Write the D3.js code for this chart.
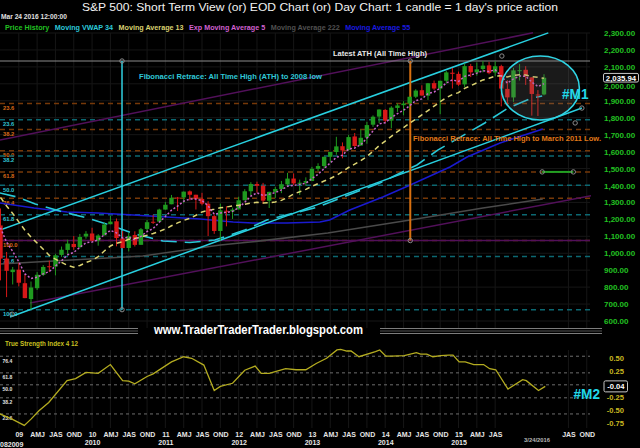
<!DOCTYPE html>
<html>
<head>
<meta charset="utf-8">
<script src="https://cdn.jsdelivr.net/npm/d3@7"></script>
<style>
  body { margin: 0; background: #000; }
  svg { display: block; }
  text { font-family: "Liberation Sans", Arial, sans-serif; }
</style>
</head>
<body>
<div id="chart"></div>
<script>
// monthly candles, first one is Oct 2008 (month index: 0 = Jan 2009)
let firstMonth = -3;
let candleOpen = [1164.17, 968.67, 888.61,
  902.99, 823.09, 729.57, 793.59, 872.74, 923.26, 920.82, 990.22, 1019.52, 1054.91, 1036.18, 1098.89,
  1116.56, 1073.89, 1105.36, 1171.23, 1188.58, 1087.30, 1031.10, 1107.53, 1049.72, 1143.49, 1185.71, 1186.60,
  1257.62, 1289.14, 1328.64, 1329.48, 1365.21, 1345.20, 1320.64, 1292.59, 1219.12, 1131.21, 1251.00, 1246.91,
  1258.86, 1312.45, 1365.90, 1408.47, 1397.86, 1309.87, 1362.33, 1379.32, 1406.54, 1440.90, 1412.20, 1416.18,
  1426.19, 1498.11, 1514.68, 1569.18, 1597.55, 1631.71, 1609.78, 1689.42, 1635.95, 1682.41, 1758.70, 1806.55,
  1845.86, 1782.68, 1857.68, 1873.96, 1884.66, 1923.87, 1962.29, 1929.80, 2004.07, 1971.44, 2018.21, 2065.78,
  2058.90, 1996.67, 2105.23, 2067.63, 2087.38, 2108.64, 2067.00, 2104.49, 1970.09, 1919.65, 2079.40, 2082.93,
  2038.20, 1936.94, 1937.09];
let candleHigh = [1264.27, 1007.51, 918.85,
  943.85, 875.01, 832.98, 888.70, 930.17, 956.23, 996.68, 1039.47, 1080.15, 1101.36, 1113.69, 1130.38,
  1150.45, 1112.42, 1180.69, 1219.80, 1205.13, 1131.23, 1120.95, 1129.24, 1148.90, 1196.14, 1227.08, 1262.60,
  1302.67, 1344.07, 1332.28, 1364.56, 1370.58, 1345.20, 1356.48, 1307.38, 1229.29, 1292.66, 1277.55, 1269.37,
  1333.47, 1378.04, 1419.15, 1422.38, 1415.32, 1363.46, 1391.74, 1426.68, 1474.51, 1470.96, 1434.27, 1448.00,
  1509.94, 1530.94, 1570.28, 1597.57, 1687.18, 1654.19, 1698.78, 1709.67, 1729.86, 1775.22, 1813.55, 1849.44,
  1850.84, 1867.92, 1883.97, 1897.28, 1924.03, 1968.17, 1991.39, 2005.04, 2019.26, 2018.19, 2075.76, 2093.55,
  2072.36, 2119.59, 2117.52, 2125.92, 2134.72, 2129.87, 2132.82, 2112.66, 2020.86, 2094.32, 2116.48, 2104.27,
  2038.20, 1962.96, 2056.60];
let candleLow = [839.80, 741.02, 815.69,
  804.30, 734.52, 666.79, 783.32, 866.10, 888.86, 869.32, 978.51, 991.97, 1020.18, 1029.38, 1085.89,
  1071.59, 1044.50, 1105.36, 1170.69, 1040.78, 1028.33, 1010.91, 1039.70, 1049.72, 1131.87, 1173.00, 1186.60,
  1257.62, 1289.14, 1249.05, 1294.70, 1311.80, 1258.07, 1282.86, 1101.54, 1114.22, 1074.77, 1158.66, 1202.37,
  1258.86, 1312.45, 1340.03, 1357.38, 1291.98, 1266.74, 1325.41, 1354.65, 1396.56, 1403.28, 1343.35, 1398.11,
  1426.19, 1485.01, 1501.48, 1536.03, 1581.28, 1560.33, 1604.57, 1627.47, 1633.41, 1646.47, 1746.20, 1767.99,
  1770.45, 1737.92, 1834.44, 1814.36, 1859.79, 1915.98, 1930.67, 1904.78, 1964.04, 1820.66, 2001.01, 1972.56,
  1988.12, 1980.90, 2039.69, 2048.38, 2067.93, 2056.32, 2044.02, 1867.01, 1871.91, 1893.70, 2019.39, 1993.26,
  1812.29, 1810.10, 1931.81];
let candleClose = [968.75, 896.24, 903.25,
  825.88, 735.09, 797.87, 872.81, 919.14, 919.32, 987.48, 1020.62, 1057.08, 1036.19, 1095.63, 1115.10,
  1073.87, 1104.49, 1169.43, 1186.69, 1089.41, 1030.71, 1101.60, 1049.33, 1141.20, 1183.26, 1180.55, 1257.64,
  1286.12, 1327.22, 1325.83, 1363.61, 1345.20, 1320.64, 1292.28, 1218.89, 1131.42, 1253.30, 1246.96, 1257.60,
  1312.41, 1365.68, 1408.47, 1397.91, 1310.33, 1362.16, 1379.32, 1406.58, 1440.67, 1412.16, 1416.18, 1426.19,
  1498.11, 1514.68, 1569.19, 1597.57, 1630.74, 1606.28, 1685.73, 1632.97, 1681.55, 1756.54, 1805.81, 1848.36,
  1782.59, 1859.45, 1872.34, 1883.95, 1923.57, 1960.23, 1930.67, 2003.37, 1972.29, 2018.05, 2067.56, 2058.90,
  1994.99, 2104.50, 2067.89, 2085.51, 2107.39, 2063.11, 2103.84, 1972.18, 1920.03, 2079.36, 2080.41, 2043.94,
  1940.24, 1932.23, 2035.94];

// indicators, same months as the candles
let ma13 = [1329, 1279, 1235, 1185, 1136, 1095, 1060, 1024, 987, 965,
  946, 928, 918, 928, 945, 958, 980, 1013, 1043, 1059,
  1068, 1082, 1087, 1096, 1106, 1117, 1129, 1143, 1162, 1179,
  1194, 1206, 1224, 1244, 1253, 1260, 1268, 1273, 1279, 1283,
  1289, 1296, 1301, 1297, 1298, 1303, 1312, 1329, 1350, 1363,
  1377, 1395, 1411, 1426, 1441, 1459, 1482, 1506, 1526, 1547,
  1571, 1602, 1635, 1662, 1690, 1718, 1742, 1767, 1792, 1817,
  1842, 1868, 1894, 1918, 1937, 1948, 1973, 1989, 2006, 2023,
  2033, 2045, 2048, 2041, 2050, 2054, 2052, 2043, 2038, 2033];
let ema5 = [1150, 1065, 1011, 949, 878, 851, 858, 878, 892, 924,
  956, 990, 1005, 1035, 1062, 1066, 1079, 1109, 1135, 1120,
  1090, 1094, 1079, 1100, 1128, 1146, 1183, 1217, 1254, 1278,
  1307, 1320, 1320, 1311, 1280, 1230, 1238, 1241, 1247, 1269,
  1301, 1337, 1357, 1341, 1348, 1358, 1374, 1396, 1401, 1406,
  1413, 1441, 1466, 1500, 1533, 1566, 1579, 1615, 1621, 1641,
  1680, 1722, 1764, 1770, 1800, 1824, 1844, 1871, 1901, 1911,
  1942, 1952, 1974, 2005, 2023, 2014, 2044, 2052, 2063, 2078,
  2073, 2083, 2046, 2004, 2029, 2046, 2045, 2010, 1984, 2001];

let ma55Month = [-3.1, 2.5, 7.9, 13, 18.7, 24.2, 29.7, 35.1, 38.3, 43.9, 49.3, 50.9, 54.2, 59.6, 64.1, 70.6, 73.4, 78.8, 85.8];
let ma55Value = [1297, 1267, 1243, 1238, 1226, 1214, 1202, 1184, 1178, 1178, 1184, 1196, 1255, 1332, 1403, 1509, 1568, 1651, 1733];

let ma222Month = [-3.1, 20.3, 33, 37.9, 50.6, 64.1, 76, 85.8];
let ma222Value = [936, 984, 1049, 1066, 1119, 1196, 1267, 1320];

let vwapMonth = [-3.1, -0.3, 2.7, 6.7, 11.2, 14.9, 19.0, 23.6, 28.0, 32.1, 37.0, 40.6, 49.0, 53.1, 59.1, 65.2, 68.6, 76.3, 80.1, 84.0, 85.7];
let vwapValue = [1356, 1332, 1291, 1249, 1208, 1167, 1114, 1072, 1063, 1078, 1137, 1196, 1273, 1332, 1414, 1521, 1609, 1769, 1857, 1916, 1928];

let tsiMonth = [-3.1, -1.1, 0.9, 2.0, 3.3, 4.9, 7.9, 9.3, 11.0, 13.0, 15.0, 17.0, 18.0, 19.0, 21.0, 22.0,
  25.0, 27.0, 28.3, 30.3, 32.0, 33.0, 35.0, 37.0, 38.7, 39.7, 41.0, 43.7, 45.4, 47.0, 48.7, 50.4,
  52.1, 52.7, 53.7, 54.4, 55.7, 58.4, 59.1, 60.1, 61.1, 63.1, 65.1, 65.8, 66.8, 67.8, 69.1, 70.4,
  71.1, 72.1, 73.1, 74.5, 76.1, 77.1, 78.1, 80.1, 82.5, 83.1, 85.1, 86.2];
let tsiValue = [-0.57, -0.67, -0.79, -0.67, -0.51, -0.35, 0.07, 0.11, 0.23, 0.21, 0.38, 0.07, 0.06, 0.01, 0.15, 0.20,
  0.43, 0.53, 0.50, 0.37, -0.12, -0.04, 0.02, 0.27, 0.35, 0.21, 0.21, 0.30, 0.28, 0.28, 0.40, 0.50,
  0.66, 0.67, 0.64, 0.64, 0.53, 0.63, 0.66, 0.54, 0.54, 0.55, 0.61, 0.58, 0.58, 0.53, 0.55, 0.56,
  0.56, 0.43, 0.43, 0.38, 0.38, 0.30, 0.28, -0.09, 0.09, 0.07, -0.12, -0.04];

// hand drawn lines: [month, price] pairs
let channelUpper = [[-3.08, 1137], [86.7, 2301]];
let channelLower = [[-1.44, 624], [92.2, 1857]];
let purpleUpper = [[-3.08, 1668], [84.2, 2301]];
let purpleLower = [[1.83, 706], [95.2, 1350]];
let greenSegment = [[85.7, 1480], [90.8, 1480]];
let markerMonth = [16.9, 16.9, 64.1, 64.1, -1.1, 79.1, 91.1, 92.2, 85.7, 90.8];
let markerPrice = [2134.72, 666.79, 2134.72, 1074.77, 640, 2164, 1769, 1857, 1480, 1480];

let athPrice = 2134.72, low2009 = 666.79, low2011 = 1074.77;
let fibCyanRatio = [0.236, 0.382, 0.5, 0.618, 0.786, 1.0];
let fibCyanLabel = ["23.6", "38.2", "50.0", "61.8", "78.6", "100.0"];
let fibOrangeRatio = [0.236, 0.382, 0.5, 0.618, 0.764, 1.0];
let fibOrangeLabel = ["23.6", "38.2", "50.0", "61.8", "76.4", "100.0"];
let fibCyanMonth = 16.9, fibOrangeMonth = 64.1;

let priceTicks = [600, 700, 800, 900, 1000, 1100, 1200, 1300, 1400, 1500, 1600, 1700, 1800, 1900, 2000, 2100, 2200, 2300];
let lastPrice = 2035.94;
let tsiTicks = [0.5, 0.25, -0.25, -0.5, -0.75];
let tsiTickLabels = ["0.50", "0.25", "-0.25", "-0.50", "-0.75"];
let tsiLevelLabels = ["76.4", "61.8", "50.0", "38.2", "23.6"];
let tsiLevelValues = [0.54, 0.22, -0.01, -0.26, -0.57];
let lastTsi = -0.04;

let quarterMonths = [0, 3, 6, 9, 12, 15, 18, 21, 24, 27, 30, 33, 36, 39, 42, 45, 48, 51, 54, 57,
  60, 63, 66, 69, 72, 75, 78, 90, 93];
let quarterLabels = ["09", "AMJ", "JAS", "OND", "10", "AMJ", "JAS", "OND", "11", "AMJ", "JAS", "OND",
  "12", "AMJ", "JAS", "OND", "13", "AMJ", "JAS", "OND", "14", "AMJ", "JAS", "OND", "15", "AMJ", "JAS", "JAS", "OND"];
let yearMonths = [12, 24, 36, 48, 60, 72];
let yearLabels = ["2010", "2011", "2012", "2013", "2014", "2015"];

let legendNames = ["Price History", "Moving VWAP 34", "Moving Average 13", "Exp Moving Average 5", "Moving Average 222", "Moving Average 55"];
let legendColors = ["#22c022", "#2cc8d8", "#d8d070", "#d060d0", "#505050", "#1a1ae0"];

// ---------------------------------------------------------------
let width = 640, height = 448;
let svg = d3.select("#chart").append("svg")
  .attr("width", width).attr("height", height)
  .style("background", "#000");

let x = d3.scaleLinear().domain([0, 84]).range([18.8, 531.8]);
let y = d3.scaleLinear().domain([600, 2300]).range([321, 33]);
let yT = d3.scaleLinear().domain([-0.75, 0.5]).range([423.3, 358.3]);
let plotRight = 590;

let defs = svg.append("defs");
defs.append("clipPath").attr("id", "clipMain")
  .append("rect").attr("x", 0).attr("y", 22).attr("width", plotRight + 1).attr("height", 306);
defs.append("clipPath").attr("id", "clipTsi")
  .append("rect").attr("x", 0).attr("y", 336).attr("width", plotRight + 1).attr("height", 92);

let main = svg.append("g").attr("clip-path", "url(#clipMain)");
let lower = svg.append("g").attr("clip-path", "url(#clipTsi)");

// grid
main.selectAll("line.hgrid").data(priceTicks).enter().append("line")
  .attr("x1", 0).attr("x2", plotRight)
  .attr("y1", d => y(d)).attr("y2", d => y(d))
  .attr("stroke", "#161616");
main.selectAll("line.vgrid").data(quarterMonths).enter().append("line")
  .attr("x1", d => x(d)).attr("x2", d => x(d))
  .attr("y1", 33).attr("y2", 328)
  .attr("stroke", "#161616");
lower.selectAll("line.vgrid").data(quarterMonths).enter().append("line")
  .attr("x1", d => x(d)).attr("x2", d => x(d))
  .attr("y1", 350).attr("y2", 428)
  .attr("stroke", "#161616");

// fibonacci levels
function fibLevels(ratios, labels, low, lineColor, textColor) {
  let lv = ratios.map((r, i) => ({ p: athPrice - r * (athPrice - low), label: labels[i] }));
  main.append("g").selectAll("line").data(lv).enter().append("line")
    .attr("x1", 0).attr("x2", plotRight)
    .attr("y1", d => y(d.p)).attr("y2", d => y(d.p))
    .attr("stroke", lineColor).attr("stroke-width", 1.5)
    .attr("stroke-dasharray", "5,4");
  main.append("g").selectAll("text").data(lv).enter().append("text")
    .attr("x", 3).attr("y", d => y(d.p) + 6.5)
    .attr("fill", textColor)
    .style("font", "bold 5.8px 'Liberation Sans'")
    .text(d => d.label);
}
fibLevels(fibOrangeRatio, fibOrangeLabel, low2011, "#763808", "#d86a18");
fibLevels(fibCyanRatio, fibCyanLabel, low2009, "#0c6872", "#30c4d4");

main.append("line")
  .attr("x1", 0).attr("x2", plotRight)
  .attr("y1", y(low2011)).attr("y2", y(low2011))
  .attr("stroke", "#52105a").attr("stroke-width", 1.5);

let seg = d3.line().x(d => x(d[0])).y(d => y(d[1]));
let pairs = (ms, vs) => ms.map((m, i) => [m, vs[i]]);

// long term lines
main.append("path").attr("d", seg(pairs(ma222Month, ma222Value)))
  .attr("fill", "none").attr("stroke", "#4a4a4a").attr("stroke-width", 1.5);
main.append("path").attr("d", seg(purpleUpper))
  .attr("fill", "none").attr("stroke", "#52105a").attr("stroke-width", 1.5);
main.append("path").attr("d", seg(purpleLower))
  .attr("fill", "none").attr("stroke", "#52105a").attr("stroke-width", 1.5);
main.append("path").attr("d", seg(pairs(ma55Month, ma55Value)))
  .attr("fill", "none").attr("stroke", "#1a1ad0").attr("stroke-width", 1.5);
main.append("path").attr("d", seg(channelUpper))
  .attr("fill", "none").attr("stroke", "#28d0e0").attr("stroke-width", 1.5);
main.append("path").attr("d", seg(channelLower))
  .attr("fill", "none").attr("stroke", "#28d0e0").attr("stroke-width", 1.5);
main.append("path").attr("d", seg(pairs(vwapMonth, vwapValue)))
  .attr("fill", "none").attr("stroke", "#28c8d8").attr("stroke-width", 1.6)
  .attr("stroke-dasharray", "16,8");

// ATH level
main.append("line")
  .attr("x1", 0).attr("x2", plotRight)
  .attr("y1", y(athPrice)).attr("y2", y(athPrice))
  .attr("stroke", "#8c8c8c").attr("stroke-width", 1.2);

// fib anchors (vertical)
main.append("line")
  .attr("x1", x(fibCyanMonth)).attr("x2", x(fibCyanMonth))
  .attr("y1", y(athPrice)).attr("y2", y(low2009))
  .attr("stroke", "#30d0e0").attr("stroke-width", 1.5);
main.append("line")
  .attr("x1", x(fibOrangeMonth)).attr("x2", x(fibOrangeMonth))
  .attr("y1", y(athPrice)).attr("y2", y(low2011))
  .attr("stroke", "#d87010").attr("stroke-width", 2);

// candles
let candles = candleOpen.map((o, i) => ({
  m: firstMonth + i, o: o, h: candleHigh[i], l: candleLow[i], c: candleClose[i]
}));
let colorOf = d => d.c >= d.o ? "#1f9a1f" : "#d81818";
let cg = main.append("g");
cg.selectAll("line").data(candles).enter().append("line")
  .attr("x1", d => x(d.m)).attr("x2", d => x(d.m))
  .attr("y1", d => y(d.h)).attr("y2", d => y(d.l))
  .attr("stroke", colorOf).attr("stroke-width", 1);
cg.selectAll("rect").data(candles).enter().append("rect")
  .attr("x", d => x(d.m) - 2.2).attr("width", 4.4)
  .attr("y", d => y(Math.max(d.o, d.c)))
  .attr("height", d => Math.max(1, Math.abs(y(d.o) - y(d.c))))
  .attr("fill", colorOf);

// short moving averages
let mline = d3.line().x((d, i) => x(firstMonth + i)).y(d => y(d));
main.append("path").attr("d", mline(ma13))
  .attr("fill", "none").attr("stroke", "#dcd472").attr("stroke-width", 1.5)
  .attr("stroke-dasharray", "5,4");
main.append("path").attr("d", mline(ema5))
  .attr("fill", "none").attr("stroke", "#c864c8").attr("stroke-width", 1.5)
  .attr("stroke-dasharray", "2,2");

// #M1 circle
main.append("ellipse")
  .attr("cx", x(85.4)).attr("cy", y(1975)).attr("rx", 39).attr("ry", 32)
  .attr("fill", "rgba(120,120,120,0.22)")
  .attr("stroke", "#30d4e4").attr("stroke-width", 1.6);

main.append("path").attr("d", seg(greenSegment))
  .attr("stroke", "#22a022").attr("stroke-width", 2);
main.selectAll("circle.mk").data(markerMonth).enter().append("circle")
  .attr("cx", d => x(d)).attr("cy", (d, i) => y(markerPrice[i])).attr("r", 2.2)
  .attr("fill", "none").attr("stroke", "#8a8a8a").attr("stroke-width", 1);

// annotations
main.append("text").attr("x", 333).attr("y", 56)
  .attr("fill", "#e8e8e8").attr("textLength", 94).attr("lengthAdjust", "spacingAndGlyphs")
  .style("font", "bold 7.4px 'Liberation Sans'").text("Latest ATH (All Time High)");
main.append("text").attr("x", 139).attr("y", 79)
  .attr("fill", "#30c8d8").attr("textLength", 183).attr("lengthAdjust", "spacingAndGlyphs")
  .style("font", "bold 7.4px 'Liberation Sans'").text("Fibonacci Retrace: All Time High (ATH) to 2008 low");
svg.append("text").attr("x", 413).attr("y", 141)
  .attr("fill", "#e07818").attr("textLength", 188).attr("lengthAdjust", "spacingAndGlyphs")
  .style("font", "bold 7.4px 'Liberation Sans'").text("Fibonacci Retrace: All Time High to March 2011 Low.");
svg.append("text").attr("x", 562).attr("y", 98.5)
  .attr("fill", "#22d8ea").attr("textLength", 26.5).attr("lengthAdjust", "spacingAndGlyphs")
  .style("font", "bold 15.5px 'Liberation Sans'").text("#M1");

// title, date, legend
svg.append("text").attr("x", 320).attr("y", 11).attr("text-anchor", "middle")
  .attr("fill", "#f2f2f2").attr("textLength", 476).attr("lengthAdjust", "spacingAndGlyphs")
  .style("font", "11.5px 'Liberation Sans'")
  .text("S&P 500: Short Term View (or) EOD Chart (or) Day Chart: 1 candle = 1 day's price action");
svg.append("text").attr("x", 1).attr("y", 18.5)
  .attr("fill", "#e0e0e0").attr("textLength", 66).attr("lengthAdjust", "spacingAndGlyphs")
  .style("font", "bold 6.6px 'Liberation Sans'").text("Mar 24 2016 12:00:00");

let lx = 5;
legendNames.forEach((name, i) => {
  let t = svg.append("text").attr("x", lx).attr("y", 30)
    .attr("fill", legendColors[i])
    .style("font", "bold 7.2px 'Liberation Sans'").text(name);
  lx += t.node().getComputedTextLength() + 5.5;
});

// right price axis
let ax = svg.append("g").attr("transform", "translate(601,0)")
  .call(d3.axisRight(y).tickValues(priceTicks).tickFormat(d3.format(",.2f")).tickSize(0).tickPadding(3));
ax.select(".domain").remove();
ax.selectAll("text").attr("fill", "#22c022").style("font", "bold 8px 'Liberation Sans'");
// the label right under the last price box sits a little lower, as in the picture
ax.selectAll(".tick").filter(d => d === 2000).select("text").attr("dy", "0.62em");

svg.append("rect").attr("x", 603.5).attr("y", y(lastPrice) - 4.3).attr("width", 35).attr("height", 8.6)
  .attr("fill", "#000").attr("stroke", "#c8c8c8").attr("stroke-width", 1).attr("rx", 1.5);
svg.append("text").attr("x", 621).attr("y", y(lastPrice) + 2.8).attr("text-anchor", "middle")
  .attr("fill", "#ffffff").style("font", "bold 7.8px 'Liberation Sans'")
  .text(d3.format(",.2f")(lastPrice));

// separator with blog address
[328.5, 331, 333.5].forEach((yy, i) => {
  svg.append("line").attr("x1", 0).attr("x2", 138).attr("y1", yy).attr("y2", yy)
    .attr("stroke", i === 1 ? "#5a5a5a" : "#8a8a8a").attr("stroke-width", 0.9);
  svg.append("line").attr("x1", 380).attr("x2", 602).attr("y1", yy).attr("y2", yy)
    .attr("stroke", i === 1 ? "#5a5a5a" : "#8a8a8a").attr("stroke-width", 0.9);
});
svg.append("text").attr("x", 154).attr("y", 334)
  .attr("fill", "#ffffff").attr("textLength", 209).attr("lengthAdjust", "spacingAndGlyphs")
  .style("font", "bold 12px 'Liberation Sans'").text("www.TraderTraderTrader.blogspot.com");

// TSI panel
svg.append("text").attr("x", 5).attr("y", 346)
  .attr("fill", "#c8c020").attr("textLength", 73).attr("lengthAdjust", "spacingAndGlyphs")
  .style("font", "bold 7.2px 'Liberation Sans'").text("True Strength Index 4 12");

lower.selectAll("line.lv").data(tsiLevelValues).enter().append("line")
  .attr("x1", 0).attr("x2", plotRight)
  .attr("y1", d => yT(d)).attr("y2", d => yT(d))
  .attr("stroke", "#6e6e6e").attr("stroke-width", 1).attr("stroke-dasharray", "3,3");
lower.selectAll("text.lv").data(tsiLevelValues).enter().append("text")
  .attr("x", 2.5).attr("y", d => yT(d) + 6.5)
  .attr("fill", "#e0e0e0").style("font", "bold 5px 'Liberation Sans'")
  .text((d, i) => tsiLevelLabels[i]);

lower.append("path")
  .attr("d", d3.line().x(d => x(d[0])).y(d => yT(d[1]))(pairs(tsiMonth, tsiValue)))
  .attr("fill", "none").attr("stroke", "#b4ac20").attr("stroke-width", 1.3);

svg.selectAll("text.tsiTick").data(tsiTicks).enter().append("text")
  .attr("x", 624).attr("y", d => yT(d) + 2.8).attr("text-anchor", "end")
  .attr("fill", "#c8b820").style("font", "bold 7.6px 'Liberation Sans'")
  .text((d, i) => tsiTickLabels[i]);
svg.append("rect").attr("x", 604).attr("y", yT(lastTsi) - 5.5).attr("width", 23.5).attr("height", 11)
  .attr("fill", "#000").attr("stroke", "#c8c8c8").attr("stroke-width", 1).attr("rx", 1.5);
svg.append("text").attr("x", 615.8).attr("y", yT(lastTsi) + 2.8).attr("text-anchor", "middle")
  .attr("fill", "#ffffff").style("font", "bold 7.6px 'Liberation Sans'").text(lastTsi.toFixed(2));
svg.append("text").attr("x", 573.5).attr("y", 398.5)
  .attr("fill", "#22d8ea").attr("textLength", 26.5).attr("lengthAdjust", "spacingAndGlyphs")
  .style("font", "bold 15px 'Liberation Sans'").text("#M2");

// time axis
let bx = svg.append("g").attr("transform", "translate(0,427)")
  .call(d3.axisBottom(x).tickValues(quarterMonths).tickFormat((d, i) => quarterLabels[i]).tickSize(0).tickPadding(5));
bx.select(".domain").remove();
bx.selectAll("text").attr("fill", "#e6e6e6").style("font", "bold 7px 'Liberation Sans'");

let yx = svg.append("g").attr("transform", "translate(0,436)")
  .call(d3.axisBottom(x).tickValues(yearMonths).tickFormat((d, i) => yearLabels[i]).tickSize(0).tickPadding(4));
yx.select(".domain").remove();
yx.selectAll("text").attr("fill", "#e6e6e6").style("font", "bold 7px 'Liberation Sans'");

svg.append("text").attr("x", 0).attr("y", 446.5)
  .attr("fill", "#e6e6e6").style("font", "bold 7px 'Liberation Sans'").text("082009");
svg.append("text").attr("x", 537).attr("y", 441.5).attr("text-anchor", "middle")
  .attr("fill", "#b8b8b8").style("font", "bold 5.8px 'Liberation Sans'").text("3/24/2016");
</script>
</body>
</html>
